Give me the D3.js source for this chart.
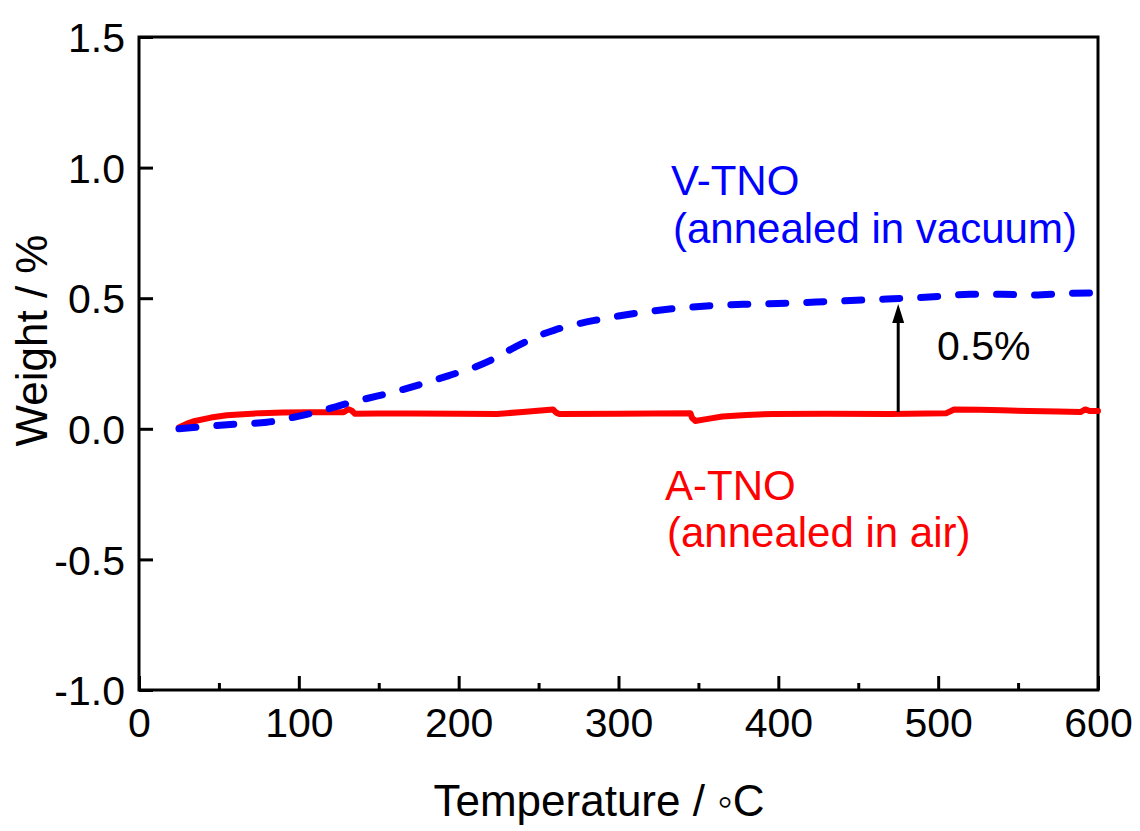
<!DOCTYPE html>
<html>
<head>
<meta charset="utf-8">
<script src="https://cdn.jsdelivr.net/npm/d3@7"></script>
<style>
  html, body { margin: 0; padding: 0; background: #fff; }
  svg { display: block; }
  text { font-family: "Liberation Sans", Arial, sans-serif; }
</style>
</head>
<body>
<svg id="chart" width="1140" height="831"></svg>
<script>
// ---- data ----
const vTemp = [25, 40, 60, 80, 95, 105, 115, 125, 140, 160, 180, 195, 210, 220, 235, 250, 260, 270, 285, 300, 320, 340, 360, 380, 400, 430, 460, 480, 500, 520, 540, 560, 580, 600];
const vWeight = [0.0, 0.008, 0.018, 0.025, 0.042, 0.055, 0.07, 0.088, 0.112, 0.142, 0.177, 0.206, 0.236, 0.262, 0.312, 0.356, 0.378, 0.395, 0.415, 0.432, 0.45, 0.463, 0.472, 0.477, 0.48, 0.487, 0.495, 0.50, 0.507, 0.515, 0.515, 0.512, 0.518, 0.52];

const aTemp = [25, 30, 35, 45, 55, 65, 76, 90, 107, 128, 131, 133, 135, 150, 170, 200, 224, 240, 259, 261, 263, 300, 345, 346, 348, 355, 365, 380, 397, 430, 470, 505, 508, 510, 526, 540, 557, 575, 589, 592, 595, 600];
const aWeight = [0.005, 0.02, 0.03, 0.043, 0.052, 0.056, 0.06, 0.062, 0.063, 0.063, 0.075, 0.07, 0.058, 0.059, 0.059, 0.058, 0.057, 0.064, 0.074, 0.062, 0.057, 0.058, 0.06, 0.042, 0.03, 0.037, 0.047, 0.053, 0.057, 0.058, 0.057, 0.06, 0.068, 0.074, 0.073, 0.071, 0.068, 0.066, 0.064, 0.074, 0.068, 0.068];

const xMajorTicks = [0, 100, 200, 300, 400, 500, 600];
const xMinorTicks = [50, 150, 250, 350, 450, 550];
const yMajorTicks = [-1.0, -0.5, 0.0, 0.5, 1.0, 1.5];

const arrowTemp = 475;
const arrowFrom = 0.064;
const arrowTo = 0.478;

// ---- layout ----
const svg = d3.select("#chart");
const pL = 139, pR = 1098, pT = 37, pB = 690;
const x = d3.scaleLinear().domain([0, 600]).range([pL, pR]);
const y = d3.scaleLinear().domain([-1.0, 1.5]).range([pB, pT]);

// frame
svg.append("rect")
  .attr("x", pL).attr("y", pT)
  .attr("width", pR - pL).attr("height", pB - pT)
  .attr("fill", "none").attr("stroke", "#000").attr("stroke-width", 3);

// x axis
const xAxis = svg.append("g").attr("transform", `translate(0,${pB})`)
  .call(d3.axisBottom(x).tickValues(xMajorTicks).tickSizeInner(-14).tickSizeOuter(0).tickFormat(d3.format("d")));
xAxis.select(".domain").remove();
xAxis.selectAll(".tick line").attr("stroke", "#000").attr("stroke-width", 3);
xAxis.selectAll(".tick text").attr("font-size", 41).attr("fill", "#000").attr("y", 47).attr("dy", 0);

const xMinor = svg.append("g").attr("transform", `translate(0,${pB})`)
  .call(d3.axisBottom(x).tickValues(xMinorTicks).tickSizeInner(-7).tickSizeOuter(0).tickFormat(""));
xMinor.select(".domain").remove();
xMinor.selectAll(".tick line").attr("stroke", "#000").attr("stroke-width", 3);

// y axis
const yFmt = d => d3.format(".1f")(d).replace("\u2212", "-");
const yAxis = svg.append("g").attr("transform", `translate(${pL},0)`)
  .call(d3.axisLeft(y).tickValues(yMajorTicks).tickSizeInner(-14).tickSizeOuter(0).tickFormat(yFmt));
yAxis.select(".domain").remove();
yAxis.selectAll(".tick line").attr("stroke", "#000").attr("stroke-width", 3);
yAxis.selectAll(".tick text").attr("font-size", 41).attr("fill", "#000").attr("x", -14).attr("dy", "0.36em");

// axis titles
svg.append("text")
  .attr("x", 599).attr("y", 816)
  .attr("text-anchor", "middle").attr("font-size", 44).attr("fill", "#000")
  .text("Temperature / \u25E6C");

svg.append("text")
  .attr("transform", `translate(47,${(233 + 448) / 2}) rotate(-90)`)
  .attr("text-anchor", "middle").attr("font-size", 44).attr("fill", "#000")
  .text("Weight / %");

// lines
const lineRed = d3.line().x(d => x(d[0])).y(d => y(d[1]));
const lineBlue = d3.line().x(d => x(d[0])).y(d => y(d[1])).curve(d3.curveMonotoneX);

svg.append("path")
  .datum(aTemp.map((t, i) => [t, aWeight[i]]))
  .attr("d", lineRed)
  .attr("fill", "none").attr("stroke", "#ff0000").attr("stroke-width", 6)
  .attr("stroke-linejoin", "round").attr("stroke-linecap", "round");

svg.append("path")
  .datum(vTemp.map((t, i) => [t, vWeight[i]]))
  .attr("d", lineBlue)
  .attr("fill", "none").attr("stroke", "#0000ff").attr("stroke-width", 7)
  .attr("stroke-dasharray", "17,21").attr("stroke-linecap", "round");

// arrow
svg.append("line")
  .attr("x1", x(arrowTemp)).attr("x2", x(arrowTemp))
  .attr("y1", y(arrowFrom)).attr("y2", y(arrowTo) + 16)
  .attr("stroke", "#000").attr("stroke-width", 3);
svg.append("path")
  .attr("d", `M${x(arrowTemp) - 6},${y(arrowTo) + 19} L${x(arrowTemp)},${y(arrowTo)} L${x(arrowTemp) + 6},${y(arrowTo) + 19} Z`)
  .attr("fill", "#000");

// annotations
svg.append("text").attr("x", 937).attr("y", 360)
  .attr("font-size", 41).attr("fill", "#000").text("0.5%");

svg.append("text").attr("x", 671).attr("y", 195)
  .attr("font-size", 42).attr("fill", "#0000ff").text("V-TNO");
svg.append("text").attr("x", 673).attr("y", 243)
  .attr("font-size", 42).attr("fill", "#0000ff").text("(annealed in vacuum)");

svg.append("text").attr("x", 665).attr("y", 500)
  .attr("font-size", 42).attr("fill", "#ff0000").text("A-TNO");
svg.append("text").attr("x", 667).attr("y", 547)
  .attr("font-size", 42).attr("fill", "#ff0000").text("(annealed in air)");
</script>
</body>
</html>
